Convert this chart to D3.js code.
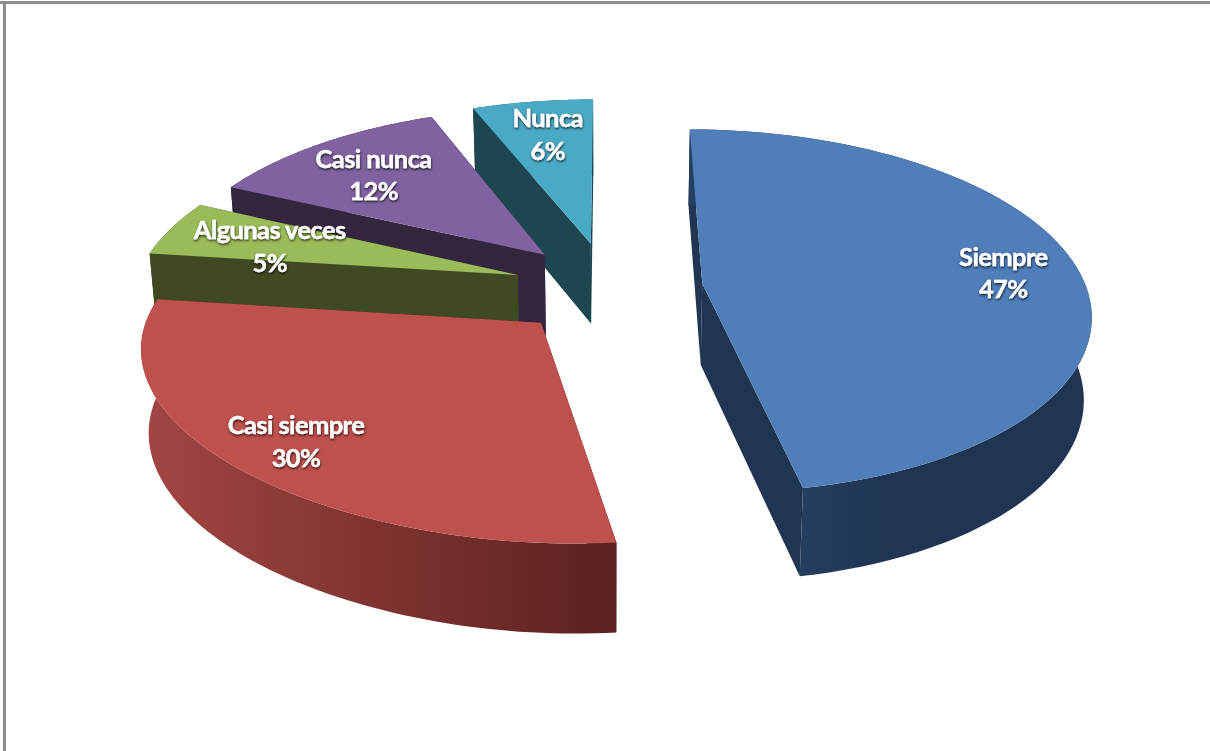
<!DOCTYPE html>
<html>
<head>
<meta charset="utf-8">
<script src="https://cdn.jsdelivr.net/npm/d3@7"></script>
<style>
  html, body { margin: 0; padding: 0; background: #fff; }
  svg { display: block; }
  text { font-family: Lato, "Open Sans", sans-serif; font-weight: 700; fill: #fff; stroke: #fff; stroke-width: 0.35px; }
</style>
</head>
<body>
<svg id="chart" width="1210" height="751"></svg>
<script>
// Survey answers, in pie order (clockwise from twelve o'clock)
const categories = ["Siempre", "Casi siempre", "Algunas veces", "Casi nunca", "Nunca"];
const shares = [47, 30, 5, 12, 6];
const topColors = ["#4f7eb9", "#be504d", "#9abb59", "#8062a0", "#4aa9c4"];
const sideColors = ["#1f3552", "#5a211f", "#3f4a22", "#35263f", "#1d4651"];
const wallStart = ["#263f60", "#a34643", "#3f4a22", "#35263f", "#1d4651"];
const wallEnd = ["#1f3552", "#5a211f", "#3f4a22", "#35263f", "#1d4651"];
const labelReach = [0.84, 0.80, 0.69, 0.72, 0.73];
const labelNudgeX = [-14, 0, -6, -5, 1];
const labelNudgeY = [-1, -7, 0, -2, -6];
const rimFlatten = [0, 22, 0, 0, 0];
const drawOrder = [4, 3, 2, 1, 0];

// Perspective of the tilted disc
const Ru = 388, Rv = 369, explode = 96, centerV = 25, thickness = 82;
const vanishX = 608, horizonY = -886, planeSpan = 1186, depthScale = 2400, converge = 0.0002;

const project = (u, v, drop = 0) => {
  const w = 1 + v / depthScale;
  const x = vanishX + (u / w) * (1 - drop * converge);
  return [x, horizonY + planeSpan / w + drop / Math.sqrt(w)];
};

const svg = d3.select("#chart");
const defs = svg.append("defs");

// Soft dark halo behind the white labels
const halo = defs.append("filter").attr("id", "halo")
  .attr("x", "-20%").attr("y", "-30%").attr("width", "140%").attr("height", "160%");
halo.append("feDropShadow").attr("dx", 0.5).attr("dy", 1.5)
  .attr("stdDeviation", 1.3).attr("flood-color", "#000").attr("flood-opacity", 0.75);

// Page frame
const frame = svg.append("g").attr("fill", "none").attr("stroke", "#8c8c8c");
frame.append("line").attr("x1", 0).attr("x2", 1210).attr("y1", 2.5).attr("y2", 2.5).attr("stroke-width", 3);
frame.append("line").attr("x1", 4.5).attr("x2", 4.5).attr("y1", 1).attr("y2", 751).attr("stroke-width", 3);

const slices = d3.pie().sort(null).startAngle(0).endAngle(2 * Math.PI)(shares);
const line = d3.line().curve(d3.curveLinearClosed);

const geometry = slices.map((s, idx) => {
  const mid = (s.startAngle + s.endAngle) / 2;
  const u0 = explode * Math.sin(mid);
  const v0 = centerV + explode * Math.cos(mid);
  const rim = d3.range(0, 81).map(i => {
    const t = i / 80;
    const a = s.startAngle + (s.endAngle - s.startAngle) * t;
    return [u0 + Ru * Math.sin(a), v0 + Rv * Math.cos(a) + rimFlatten[idx] * Math.sin(Math.PI * t)];
  });
  return { mid, u0, v0, rim };
});

geometry.forEach((g, i) => {
  const grad = defs.append("linearGradient").attr("id", `wall${i}`)
    .attr("gradientUnits", "userSpaceOnUse");
  const xs = g.rim.map(p => project(p[0], p[1])[0]);
  grad.attr("x1", i === 0 ? 800 : d3.min(xs)).attr("x2", i === 0 ? 880 : d3.max(xs))
    .attr("y1", 0).attr("y2", 0);
  grad.append("stop").attr("offset", 0).attr("stop-color", wallStart[i]);
  grad.append("stop").attr("offset", 1).attr("stop-color", wallEnd[i]);
});

const pieGroup = svg.append("g");
drawOrder.forEach(i => {
  const g = geometry[i];
  const slice = pieGroup.append("g").attr("class", "slice");
  const first = g.rim[0], last = g.rim[g.rim.length - 1];
  // Radial cut faces
  [first, last].forEach(edge => {
    slice.append("path")
      .attr("d", line([
        project(g.u0, g.v0), project(edge[0], edge[1]),
        project(edge[0], edge[1], thickness), project(g.u0, g.v0, thickness)
      ]))
      .attr("fill", sideColors[i]);
  });
  // Curved outer wall
  const wall = g.rim.map(p => project(p[0], p[1]))
    .concat(g.rim.slice().reverse().map(p => project(p[0], p[1], thickness)));
  slice.append("path").attr("d", line(wall)).attr("fill", `url(#wall${i})`);
  // Top face
  const top = [project(g.u0, g.v0)].concat(g.rim.map(p => project(p[0], p[1])));
  slice.append("path").attr("d", line(top)).attr("fill", topColors[i]);
});

// Two-line labels along each slice's bisector
const labels = svg.append("g").attr("text-anchor", "middle").attr("filter", "url(#halo)")
  .style("font-size", "25.5px").style("letter-spacing", "-0.6px");
categories.forEach((name, i) => {
  const g = geometry[i];
  const k = labelReach[i];
  const [px, py] = project(g.u0 + k * Ru * Math.sin(g.mid), g.v0 + k * Rv * Math.cos(g.mid));
  const x = px + labelNudgeX[i], y = py + labelNudgeY[i];
  const t = labels.append("text").attr("x", x).attr("y", y);
  t.append("tspan").attr("x", x).attr("dy", "-0.12em").text(name);
  t.append("tspan").attr("x", x).attr("dy", "1.27em").text(`${shares[i]}%`);
});
</script>
</body>
</html>
